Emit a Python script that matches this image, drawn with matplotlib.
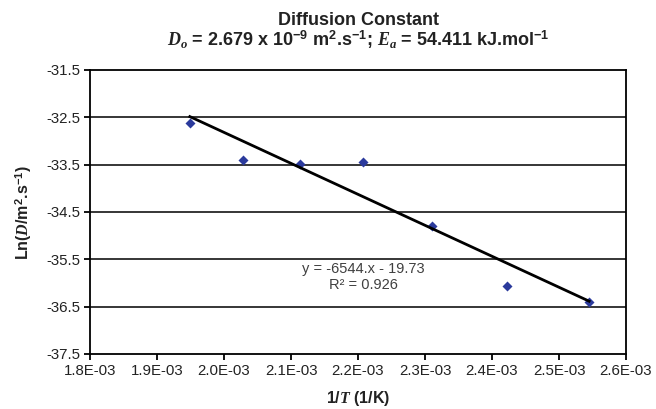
import matplotlib
matplotlib.use('Agg')
import matplotlib.pyplot as plt
import numpy as np

# data
inv_T = [1.949e-3, 2.029e-3, 2.113e-3, 2.208e-3, 2.310e-3, 2.422e-3, 2.545e-3]
ln_D = [-32.62, -33.41, -33.48, -33.44, -34.79, -36.06, -36.41]
slope, intercept = -6544.0, -19.73
r2 = 0.926

x_ticks = [1.8e-3, 1.9e-3, 2.0e-3, 2.1e-3, 2.2e-3, 2.3e-3, 2.4e-3, 2.5e-3, 2.6e-3]
x_labels = ['1.8E-03', '1.9E-03', '2.0E-03', '2.1E-03', '2.2E-03', '2.3E-03', '2.4E-03', '2.5E-03', '2.6E-03']
y_ticks = [-37.5, -36.5, -35.5, -34.5, -33.5, -32.5, -31.5]

plt.rcParams['font.family'] = ['Liberation Sans', 'DejaVu Sans']
plt.rcParams['mathtext.fontset'] = 'custom'
plt.rcParams['mathtext.rm'] = 'Liberation Sans:bold'
plt.rcParams['mathtext.bf'] = 'Liberation Sans:bold'
plt.rcParams['mathtext.it'] = 'Liberation Serif:italic:bold'

W, H = 656, 409
fig = plt.figure(figsize=(W / 100, H / 100), dpi=100)
ax = fig.add_axes([90 / W, (H - 354) / H, (626 - 90) / W, (354 - 70) / H])

# gridlines
for yv in y_ticks[1:-1]:
    ax.axhline(yv, color='black', linewidth=1.1, zorder=1)

ax.scatter(inv_T, ln_D, marker='D', s=26, color='#2b3a9c', zorder=3, linewidths=0)

xt = np.array([min(inv_T), max(inv_T)])
ax.plot(xt, slope * xt + intercept, color='black', linewidth=2.0, zorder=4)

ax.set_xlim(1.8e-3, 2.6e-3)
ax.set_ylim(-37.5, -31.5)
ax.set_xticks(x_ticks)
ax.set_xticklabels(x_labels)
ax.set_yticks(y_ticks)
ax.set_yticklabels(['%.1f' % v for v in y_ticks])
ax.tick_params(axis='both', direction='out', length=4, width=1.3, labelsize=10.8,
               labelcolor='#222222', pad=3)
for s in ax.spines.values():
    s.set_linewidth(1.3)
    s.set_color('black')

ax.text(2.2075e-3, -35.87, 'y = %.0f.x - %.2f\nR\u00b2 = %.3f' % (slope, -intercept, r2),
        ha='center', va='center', fontsize=10.5, color='#404040', linespacing=1.2)

fig.text(358 / W, 1 - 25 / H, 'Diffusion Constant', ha='center', va='baseline',
         fontsize=13, fontweight='bold', color='#222222')
fig.text(358 / W, 1 - 46 / H,
         r'$D_o$ = 2.679 x 10$^{-9}$ m$^{2}$.s$^{-1}$; $E_a$ = 54.411 kJ.mol$^{-1}$',
         ha='center', va='baseline', fontsize=13, fontweight='bold', color='#222222')

fig.text(24 / W, 1 - 212 / H, r'Ln($D$/m$^{2}$.s$^{-1}$)', rotation=90, ha='center',
         va='center', fontsize=11.5, fontweight='bold', color='#222222')
fig.text(358 / W, 1 - 398 / H, r'1/$T$ (1/K)', ha='center', va='center',
         fontsize=11.5, fontweight='bold', color='#222222')

fig.savefig('out.png', dpi=100)
